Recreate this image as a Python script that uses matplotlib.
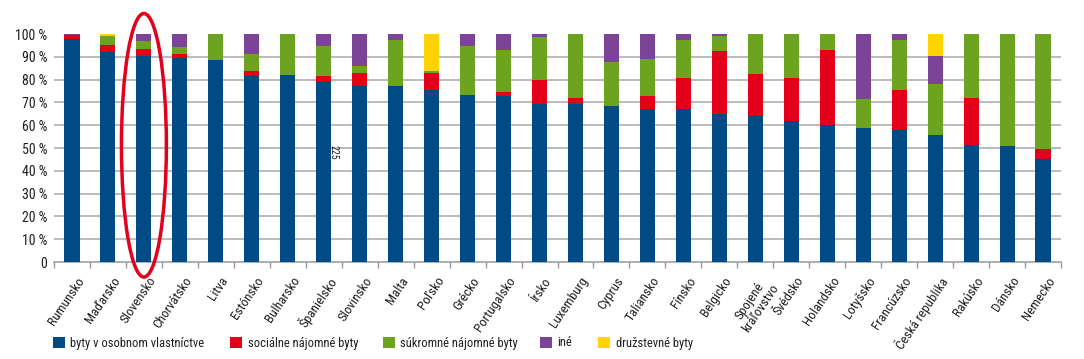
import matplotlib
matplotlib.use("Agg")
import matplotlib.pyplot as plt
from matplotlib.patches import Ellipse
from matplotlib import font_manager
import numpy as np

countries = ["Rumunsko", "Maďarsko", "Slovensko", "Chorvátsko", "Litva", "Estónsko",
             "Bulharsko", "Španielsko", "Slovinsko", "Malta", "Poľsko", "Grécko",
             "Portugalsko", "Írsko", "Luxemburg", "Cyprus", "Taliansko", "Fínsko",
             "Belgicko", "Spojené\nkráľovstvo", "Švédsko", "Holandsko", "Lotyšsko",
             "Francúzsko", "Česká republika", "Rakúsko", "Dánsko", "Nemecko"]

osobne =    [98.0, 92.0, 90.4, 89.5, 88.6, 81.6, 81.8, 79.0, 77.2, 77.1, 75.3, 73.3, 72.8, 69.5,
             69.1, 68.5, 67.2, 67.2, 64.8, 64.2, 61.9, 60.0, 58.7, 57.7, 55.8, 51.5, 50.9, 45.3]
socialne =  [1.5, 3.3, 2.9, 1.9, 0.0, 2.3, 0.0, 2.5, 5.8, 0.0, 7.6, 0.0, 1.9, 10.5,
             2.9, 0.0, 5.6, 13.7, 27.6, 18.3, 19.0, 32.8, 0.0, 17.6, 0.0, 20.5, 0.0, 4.3]
sukromne =  [0.0, 3.8, 3.5, 2.9, 11.4, 7.3, 18.2, 13.2, 3.1, 20.3, 0.9, 21.6, 18.3, 18.5,
             28.0, 19.2, 16.3, 16.5, 6.9, 17.5, 19.1, 7.2, 12.8, 22.1, 22.4, 28.0, 49.1, 50.4]
ine =       [0.5, 0.0, 3.2, 5.7, 0.0, 8.8, 0.0, 5.3, 13.9, 2.6, 0.0, 5.1, 7.0, 1.5,
             0.0, 12.3, 10.9, 2.6, 0.7, 0.0, 0.0, 0.0, 28.5, 2.6, 12.3, 0.0, 0.0, 0.0]
druzstevne = [0.0, 0.9, 0.0, 0.0, 0.0, 0.0, 0.0, 0.0, 0.0, 0.0, 16.2, 0.0, 0.0, 0.0,
              0.0, 0.0, 0.0, 0.0, 0.0, 0.0, 0.0, 0.0, 0.0, 0.0, 9.5, 0.0, 0.0, 0.0]

series_names = ["byty v osobnom vlastníctve", "sociálne nájomné byty",
                "súkromné nájomné byty", "iné", "družstevné byty"]
colors = ["#004A86", "#E2001A", "#6CA420", "#7B4496", "#FFD200"]
ytick_vals = [0, 10, 20, 30, 40, 50, 60, 70, 80, 90, 100]
ytick_labels = ["0"] + [f"{v} %" for v in ytick_vals[1:]]

avail = {f.name for f in font_manager.fontManager.ttflist}
fam = "DejaVu Sans"
for cand in ["Roboto Condensed", "Liberation Sans Narrow", "Arial Narrow", "Archivo Narrow",
             "PT Sans Narrow", "IBM Plex Sans Condensed", "Open Sans Condensed"]:
    if cand in avail:
        fam = cand
        break
plt.rcParams["font.family"] = [fam, "DejaVu Sans"]
FS = 9.5
TXT = "#1e1e1e"

W, H = 1084, 359
fig = plt.figure(figsize=(W / 100, H / 100), dpi=100)
ax = fig.add_axes([54 / W, (H - 262) / H, 1007 / W, 228 / H])

x = np.arange(len(countries))
bottom = np.zeros(len(countries))
handles = []
for name, vals, c in zip(series_names, [osobne, socialne, sukromne, ine, druzstevne], colors):
    vals = np.array(vals)
    h = ax.bar(x, vals, 0.42, bottom=bottom, color=c, label=name, zorder=3)
    handles.append(h)
    bottom += vals

ax.set_xlim(-0.5, len(countries) - 0.5)
ax.set_ylim(0, 100)
ax.set_yticks(ytick_vals)
ax.set_yticklabels(ytick_labels, fontsize=10, color=TXT)
ax.tick_params(axis="y", length=0, pad=5)
for v in ytick_vals[1:-1]:
    ax.axhline(v, color="#A8A8A8", lw=1.1, zorder=1)

ax.set_xticks(np.arange(-0.5, len(countries), 1.0))
ax.set_xticklabels([])
ax.tick_params(axis="x", length=4, color="#999999", width=1)
for s in ["top", "right", "left"]:
    ax.spines[s].set_visible(False)
ax.spines["bottom"].set_color("#999999")
ax.spines["bottom"].set_linewidth(1.1)

for i, name in enumerate(countries):
    ax.annotate(name, xy=(i, 0), xycoords="data", xytext=(3, -9), textcoords="offset points",
                rotation=56, rotation_mode="anchor", ha="right", va="top",
                fontsize=FS, color=TXT, multialignment="center", linespacing=1.0)

ell = Ellipse((2, 51.2), 1.25, 115.6, fill=False, edgecolor="#E3001B", lw=2.5,
              clip_on=False, zorder=5)
ax.add_patch(ell)

ax.text(7.26, 48.2, "225", rotation=-90, fontsize=7, ha="center", va="center",
        color=TXT, zorder=6)

legend_x_px = [53, 230, 383, 540, 598]
for h, name, lx in zip(handles, series_names, legend_x_px):
    fig.legend(handles=[h], labels=[name], loc="center left",
               bbox_to_anchor=(lx / W, (H - 343) / H), frameon=False, fontsize=9,
               handlelength=0.95, handleheight=0.95, handletextpad=0.45,
               borderpad=0, borderaxespad=0, labelcolor=TXT)

fig.savefig("out.png", dpi=100)
